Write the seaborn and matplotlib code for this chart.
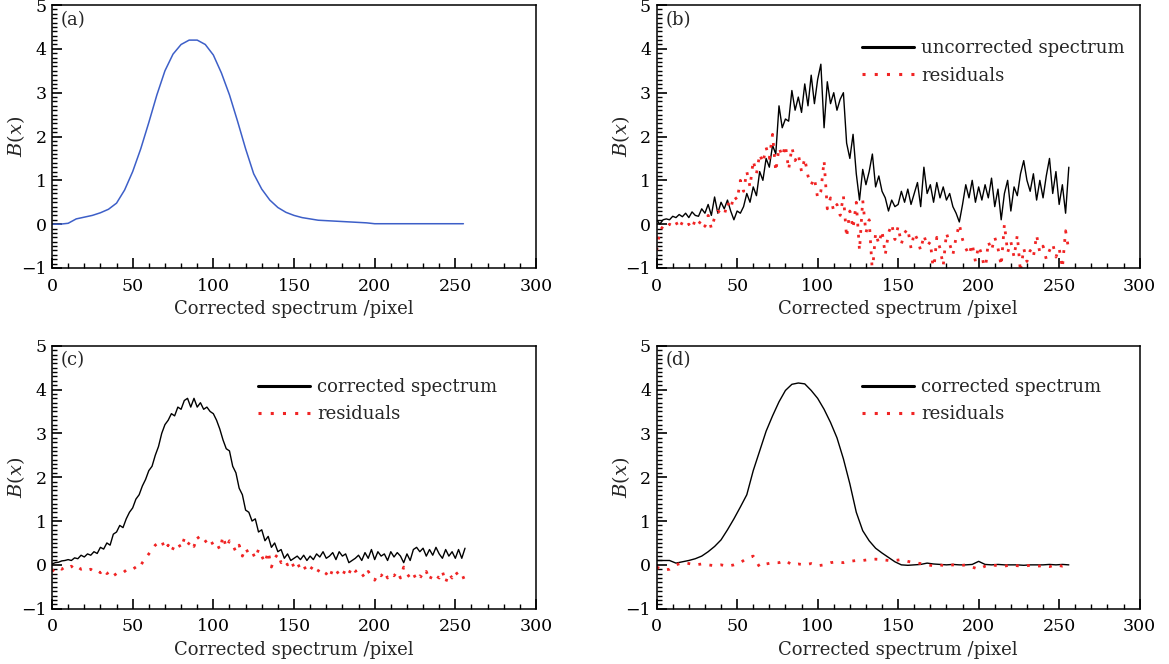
import numpy as np
import pandas as pd
import matplotlib
matplotlib.use("Agg")
import matplotlib.pyplot as plt
from matplotlib.ticker import MultipleLocator
import seaborn as sns

# --- data: spectra vs pixel index ---
PIX_A = np.arange(0, 256, 5)
PIX_2 = np.arange(0, 257, 2)
PIX_4 = np.arange(0, 257, 4)

true_spectrum = [
    0.0, 0.0, 0.02, 0.12, 0.16, 0.2, 0.26, 0.34, 0.48, 0.78,
    1.2, 1.72, 2.32, 2.95, 3.5, 3.88, 4.1, 4.2, 4.2, 4.1,
    3.86, 3.45, 2.95, 2.35, 1.72, 1.15, 0.8, 0.55, 0.38, 0.27,
    0.2, 0.15, 0.12, 0.09, 0.08, 0.07, 0.06, 0.05, 0.04, 0.03,
    0.01, 0.01, 0.01, 0.01, 0.01, 0.01, 0.01, 0.01, 0.01, 0.01,
    0.01, 0.01,
]

b_uncorrected = [
    0.1, 0.0, 0.1, 0.12, 0.1, 0.18, 0.15, 0.22, 0.17, 0.25,
    0.15, 0.28, 0.2, 0.18, 0.35, 0.25, 0.45, 0.2, 0.62, 0.25,
    0.5, 0.35, 0.55, 0.3, 0.1, 0.3, 0.25, 0.4, 0.7, 0.5,
    0.85, 0.65, 1.2, 1.0, 1.5, 1.3, 1.8, 1.6, 2.7, 2.2,
    2.4, 2.35, 3.05, 2.6, 2.9, 2.55, 3.2, 2.7, 3.4, 2.75,
    3.3, 3.65, 2.2, 3.25, 2.75, 3.0, 2.6, 2.85, 3.0, 1.85,
    1.5, 2.05, 1.15, 0.55, 1.25, 0.9, 1.2, 1.6, 0.85, 1.1,
    0.75, 0.6, 0.3, 0.55, 0.4, 0.45, 0.75, 0.5, 0.8, 0.45,
    0.7, 0.95, 0.4, 1.3, 0.7, 0.9, 0.5, 0.95, 0.6, 0.85,
    0.55, 0.7, 0.4, 0.25, 0.05, 0.45, 0.9, 0.6, 1.0, 0.5,
    0.85, 0.55, 0.9, 0.6, 1.05, 0.4, 0.8, 0.1, 0.7, 1.0,
    0.3, 0.85, 0.65, 1.15, 1.45, 1.0, 0.75, 1.15, 0.55, 1.0,
    0.6, 1.1, 1.5, 0.7, 1.2, 0.45, 0.9, 0.25, 1.3,
]
b_residuals = [
    -0.6, -0.15, -0.05, -0.1, 0.0, -0.05, 0.05, -0.1, 0.05, -0.05,
    0.0, -0.1, 0.1, 0.0, 0.1, -0.05, 0.2, -0.1, 0.15, 0.3,
    0.25, 0.2, 0.5, 0.35, 0.65, 0.55, 1.0, 0.75, 1.2, 0.85,
    1.45, 1.15, 1.6, 1.4, 1.75, 1.5, 2.05, 1.2, 1.75, 1.55,
    1.8, 1.25, 1.75, 1.45, 1.6, 1.2, 1.5, 1.1, 0.9, 1.05,
    0.6, 0.75, 1.45, 0.35, 0.6, 0.3, 0.45, 0.2, 0.65, -0.3,
    0.3, -0.1, 0.5, -0.6, 0.55, -0.2, 0.1, -1.1, -0.2, -0.45,
    -0.15, -0.7, -0.2, 0.0, -0.35, -0.05, -0.45, -0.2, -0.1, -0.55,
    -0.2, -0.35, -0.6, -0.25, -0.5, -0.4, -1.1, -0.3, -0.55, -0.95,
    -0.2, -0.45, -0.7, -0.3, 0.0, -0.35, -0.55, -0.7, -0.45, -0.85,
    -0.5, -0.7, -1.1, -0.4, -0.6, -0.3, -0.55, -0.95, 0.0, -0.65,
    -0.4, -0.75, -0.25, -1.1, -0.55, -0.85, -0.6, -0.75, -0.25, -0.65,
    -0.5, -0.8, -0.6, -0.45, -0.75, -0.55, -1.0, -0.15, -0.6,
]

c_corrected = [
    0.02, 0.05, 0.06, 0.09, 0.1, 0.12, 0.1, 0.16, 0.14, 0.22,
    0.18, 0.25, 0.22, 0.3, 0.26, 0.4, 0.36, 0.5, 0.45, 0.7,
    0.75, 0.9, 0.85, 1.05, 1.2, 1.3, 1.5, 1.6, 1.8, 1.95,
    2.15, 2.25, 2.5, 2.7, 3.0, 3.2, 3.3, 3.45, 3.4, 3.6,
    3.55, 3.75, 3.8, 3.6, 3.8, 3.6, 3.7, 3.55, 3.6, 3.5,
    3.45, 3.3, 3.1, 2.85, 2.65, 2.6, 2.25, 2.1, 1.75, 1.6,
    1.25, 1.2, 1.0, 1.05, 0.75, 0.8, 0.55, 0.65, 0.4, 0.5,
    0.3, 0.35, 0.15, 0.25, 0.1, 0.15, 0.2, 0.12, 0.22, 0.1,
    0.2, 0.12, 0.25, 0.18, 0.3, 0.15, 0.2, 0.28, 0.12, 0.3,
    0.2, 0.25, 0.05, 0.1, 0.15, 0.22, 0.1, 0.28, 0.15, 0.35,
    0.12, 0.3, 0.2, 0.25, 0.1, 0.3, 0.18, 0.28, 0.2, 0.05,
    0.25, 0.1, 0.35, 0.4, 0.3, 0.38, 0.2, 0.35, 0.22, 0.4,
    0.25, 0.15, 0.35, 0.2, 0.3, 0.15, 0.35, 0.15, 0.38,
]
c_residuals = [
    -0.15, -0.08, -0.05, -0.1, -0.05, -0.08, -0.03, -0.1, -0.05, -0.1,
    -0.08, -0.12, -0.1, -0.15, -0.12, -0.18, -0.1, -0.2, -0.15, -0.25,
    -0.2, -0.22, -0.18, -0.12, -0.08, -0.1, -0.05, -0.08, 0.05, 0.15,
    0.25, 0.35, 0.45, 0.5, 0.55, 0.35, 0.45, 0.3, 0.45, 0.5,
    0.38, 0.6, 0.45, 0.55, 0.42, 0.65, 0.55, 0.6, 0.5, 0.58,
    0.45, 0.5, 0.35, 0.65, 0.4, 0.55, 0.45, 0.3, 0.45, 0.2,
    0.38, 0.25, 0.3, 0.15, 0.35, 0.2, 0.05, 0.3, -0.05, 0.15,
    0.25, 0.05, 0.12, 0.0, 0.1, -0.05, 0.05, -0.1, -0.02, -0.15,
    -0.05, -0.1, -0.2, -0.08, -0.15, -0.2, -0.3, -0.1, -0.2, -0.15,
    -0.25, -0.1, -0.2, -0.05, -0.15, -0.1, -0.2, -0.3, -0.15, -0.25,
    -0.35, -0.2, -0.25, -0.15, -0.3, -0.2, -0.25, -0.15, -0.3, -0.05,
    -0.2, -0.3, -0.2, -0.35, -0.25, -0.3, -0.15, -0.35, -0.2, -0.25,
    -0.3, -0.15, -0.4, -0.2, -0.3, -0.15, -0.25, -0.2, -0.38,
]

d_corrected = [
    0.1, 0.1, 0.1, 0.04, 0.07, 0.1, 0.14, 0.2, 0.3, 0.42,
    0.57, 0.8, 1.05, 1.32, 1.6, 2.15, 2.6, 3.05, 3.4, 3.72,
    3.98, 4.12, 4.15, 4.13, 3.98, 3.8, 3.55, 3.25, 2.9, 2.42,
    1.85, 1.2, 0.78, 0.55, 0.38, 0.27, 0.17, 0.07, 0.0, -0.01,
    0.0, 0.01, 0.04, 0.02, 0.01, 0.0, 0.01, 0.0, 0.0, 0.01,
    0.08, 0.01, 0.0, 0.01, 0.0, 0.0, 0.0, -0.01, 0.0, 0.0,
    0.0, 0.01, 0.0, 0.01, 0.0,
]
d_residuals = [
    -0.05, -0.12, -0.1, 0.0, 0.05, 0.03, 0.0, 0.02, 0.0, -0.02,
    0.0, -0.03, 0.0, 0.05, 0.15, 0.2, -0.05, 0.02, 0.05, 0.05,
    0.1, 0.0, 0.02, 0.0, 0.03, -0.02, 0.0, 0.05, 0.07, 0.05,
    0.08, 0.1, 0.1, 0.12, 0.13, 0.12, 0.1, 0.1, 0.12, 0.08,
    0.05, 0.03, 0.0, -0.02, 0.0, -0.03, 0.0, -0.02, 0.0, -0.05,
    -0.1, -0.03, 0.0, -0.02, -0.03, 0.0, -0.02, -0.03, -0.01, -0.03,
    -0.02, -0.04, 0.0, -0.03, 0.0,
]

# --- style ---
BLUE = "#3d5fc8"
RED = "#f02424"
DOTS = (0, (1, 3))

sns.set_theme(style="ticks", rc={
    "xtick.direction": "in", "ytick.direction": "in",
    "xtick.color": "black", "ytick.color": "black",
    "xtick.major.size": 7, "ytick.major.size": 7,
    "xtick.minor.size": 3.5, "ytick.minor.size": 3.5,
    "xtick.major.width": 1.2, "ytick.major.width": 1.2,
    "xtick.minor.width": 1.0, "ytick.minor.width": 1.0,
})
plt.rcParams["font.family"] = ["DejaVu Serif"]
plt.rcParams["mathtext.fontset"] = "dejavuserif"
plt.rcParams["axes.linewidth"] = 1.1

fig = plt.figure(figsize=(11.69, 6.64), dpi=100)
positions = {
    "a": [0.0445, 0.5964, 0.414, 0.396],
    "b": [0.5617, 0.5964, 0.4132, 0.396],
    "c": [0.0445, 0.0833, 0.414, 0.396],
    "d": [0.5617, 0.0833, 0.4132, 0.396],
}
axes = {k: fig.add_axes(v) for k, v in positions.items()}


def style_axis(ax, tag):
    ax.set_xlim(0, 300)
    ax.set_ylim(-1, 5)
    ax.minorticks_on()
    ax.xaxis.set_major_locator(MultipleLocator(50))
    ax.xaxis.set_minor_locator(MultipleLocator(10))
    ax.yaxis.set_major_locator(MultipleLocator(1))
    ax.yaxis.set_minor_locator(MultipleLocator(0.1))
    ax.tick_params(which="both", direction="in", top=False, right=False,
                   bottom=True, left=True, color="black")
    ax.tick_params(which="major", length=7, width=1.2, labelsize=12.5)
    ax.tick_params(which="minor", length=3.5, width=1.0)
    ax.tick_params(axis="x", which="major", pad=7)
    ax.tick_params(axis="y", which="major", pad=4)
    ax.set_xlabel("Corrected spectrum /pixel", fontsize=13, labelpad=4)
    ax.set_ylabel(r"$B(x)$", fontsize=14)
    ax.yaxis.set_label_coords(-0.052, 0.5)
    ax.text(0.018, 0.978, f"({tag})", transform=ax.transAxes,
            fontsize=13, va="top", ha="left")
    for s in ax.spines.values():
        s.set_color("black")


def add_legend(ax, y_top):
    leg = ax.legend(loc="upper left", bbox_to_anchor=(0.425, y_top),
                    frameon=False, fontsize=13, handlelength=2.9,
                    handletextpad=0.4, labelspacing=0.52, borderpad=0,
                    borderaxespad=0)
    leg.get_lines()[0].set_linewidth(2.2)
    leg.get_lines()[1].set_linewidth(2.2)


# (a) reference spectrum
ax = axes["a"]
sns.lineplot(x=PIX_A, y=true_spectrum, ax=ax, color=BLUE, linewidth=1.1)
style_axis(ax, "a")

# (b) uncorrected
ax = axes["b"]
sns.lineplot(x=PIX_2, y=b_uncorrected, ax=ax, color="black", linewidth=1.0,
             label="uncorrected spectrum")
sns.lineplot(x=PIX_2, y=b_residuals, ax=ax, color=RED, linewidth=2.0,
             linestyle=DOTS, label="residuals")
style_axis(ax, "b")
add_legend(ax, 0.87)

# (c) corrected
ax = axes["c"]
sns.lineplot(x=PIX_2, y=c_corrected, ax=ax, color="black", linewidth=1.0,
             label="corrected spectrum")
sns.lineplot(x=PIX_2, y=c_residuals, ax=ax, color=RED, linewidth=2.0,
             linestyle=DOTS, label="residuals")
style_axis(ax, "c")
add_legend(ax, 0.877)

# (d) corrected, improved
ax = axes["d"]
sns.lineplot(x=PIX_4, y=d_corrected, ax=ax, color="black", linewidth=1.0,
             label="corrected spectrum")
sns.lineplot(x=PIX_4, y=d_residuals, ax=ax, color=RED, linewidth=2.0,
             linestyle=DOTS, label="residuals")
style_axis(ax, "d")
add_legend(ax, 0.877)

fig.savefig("out.png", dpi=100, facecolor="white")
